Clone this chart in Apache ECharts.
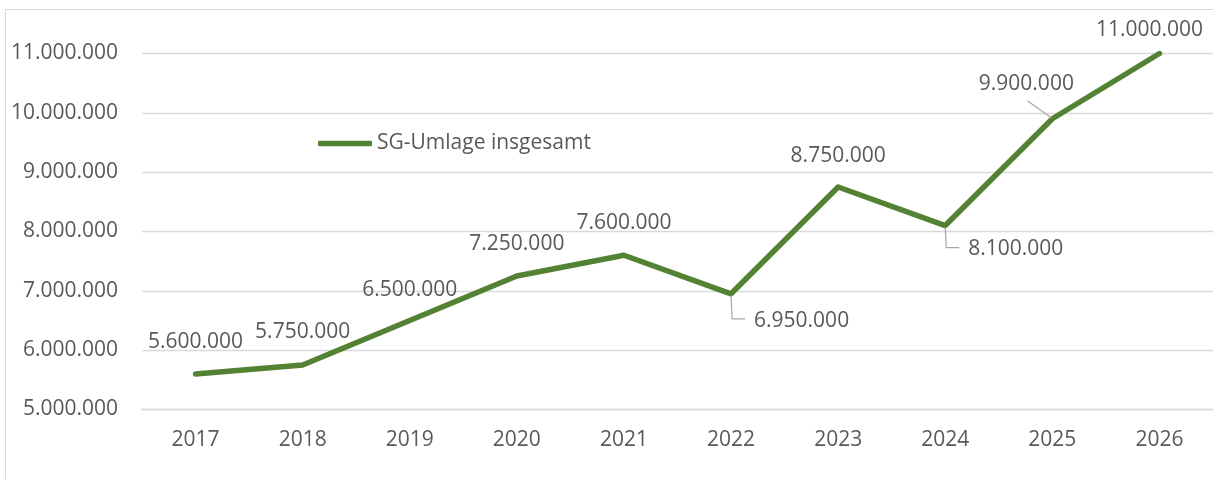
<!DOCTYPE html>
<html>
<head>
<meta charset="utf-8">
<script src="https://cdn.jsdelivr.net/npm/echarts@6/dist/echarts.min.js"></script>
<style>
html,body{margin:0;padding:0;background:#fff;}
#chart{width:1213px;height:479px;}
</style>
</head>
<body>
<div id="chart"></div>
<script>
const categories = ['2017','2018','2019','2020','2021','2022','2023','2024','2025','2026'];
const values = [5600000, 5750000, 6500000, 7250000, 7600000, 6950000, 8750000, 8100000, 9900000, 11000000];
const seriesName = 'SG-Umlage insgesamt';
const yTicks = {min: 5000000, max: 11000000, interval: 1000000};

// label placement (pixel offsets from the data point) and optional leader lines
const labelPlacement = [
  {dx: 0, dy: -32, align: 'center'},
  {dx: 0, dy: -33, align: 'center'},
  {dx: 0, dy: -30, align: 'center'},
  {dx: 0, dy: -32, align: 'center'},
  {dx: 0, dy: -32, align: 'center'},
  {dx: 23, dy: 27, align: 'left', leader: [[0, 2], [1, 25], [14, 25]]},
  {dx: 0, dy: -31, align: 'center'},
  {dx: 23, dy: 23, align: 'left', leader: [[0, 2], [1, 22], [14, 22]]},
  {dx: -26, dy: -35, align: 'center', leader: [[-25, -18], [-1, -1]]},
  {dx: -10, dy: -23, align: 'center'}
];

function fmt(v) {
  return String(Math.round(v)).replace(/\B(?=(\d{3})+(?!\d))/g, '.');
}

const FONT = 'Open Sans';
const FS = 21;
const TXT = '#595959';
const GREEN = '#548235';

const chart = echarts.init(document.getElementById('chart'), null, {renderer: 'canvas'});
chart.setOption({
  animation: false,
  backgroundColor: '#fff',
  graphic: [{
    type: 'rect',
    shape: {x: 5.5, y: 9.5, width: 1400, height: 800},
    style: {fill: 'none', stroke: '#d9d9d9', lineWidth: 1},
    silent: true,
    z: -10
  }],
  legend: {
    data: [{name: seriesName, icon: 'roundRect', itemStyle: {color: GREEN}}],
    left: 318,
    top: 133,
    itemWidth: 54,
    itemHeight: 5.5,
    itemGap: 10,
    padding: 0,
    textStyle: {fontFamily: FONT, fontSize: FS, color: TXT}
  },
  grid: {left: 142, right: -3, top: 53.5, bottom: 69.5, containLabel: false},
  xAxis: {
    type: 'category',
    data: categories,
    boundaryGap: true,
    axisLine: {show: true, lineStyle: {color: '#d9d9d9', width: 1.3}},
    axisTick: {show: false},
    axisLabel: {fontFamily: FONT, fontSize: FS, color: TXT, margin: 20}
  },
  yAxis: {
    type: 'value',
    min: yTicks.min,
    max: yTicks.max,
    interval: yTicks.interval,
    axisLine: {show: false},
    axisTick: {show: false},
    splitLine: {lineStyle: {color: '#d9d9d9', width: 1.3}},
    axisLabel: {fontFamily: FONT, fontSize: FS, color: TXT, margin: 24, formatter: fmt}
  },
  series: [
    {
      name: seriesName,
      type: 'line',
      data: values,
      symbol: 'none',
      lineStyle: {color: GREEN, width: 5.5, cap: 'round', join: 'round'},
      itemStyle: {color: GREEN},
      z: 2
    },
    {
      name: 'labels',
      type: 'custom',
      data: values.map((v, i) => [i, v]),
      clip: false,
      z: 3,
      renderItem: function (params, api) {
        const i = params.dataIndex;
        const p = api.coord([api.value(0), api.value(1)]);
        const lp = labelPlacement[i];
        const children = [];
        if (lp.leader) {
          children.push({
            type: 'polyline',
            shape: {points: lp.leader.map(o => [p[0] + o[0], p[1] + o[1]])},
            style: {stroke: '#a6a6a6', lineWidth: 1.2, fill: 'none'}
          });
        }
        children.push({
          type: 'text',
          x: p[0] + lp.dx,
          y: p[1] + lp.dy,
          style: {
            text: fmt(api.value(1)),
            fontFamily: FONT,
            fontSize: FS,
            fill: TXT,
            align: lp.align,
            verticalAlign: 'middle'
          }
        });
        return {type: 'group', children: children};
      }
    }
  ]
});
</script>
</body>
</html>
